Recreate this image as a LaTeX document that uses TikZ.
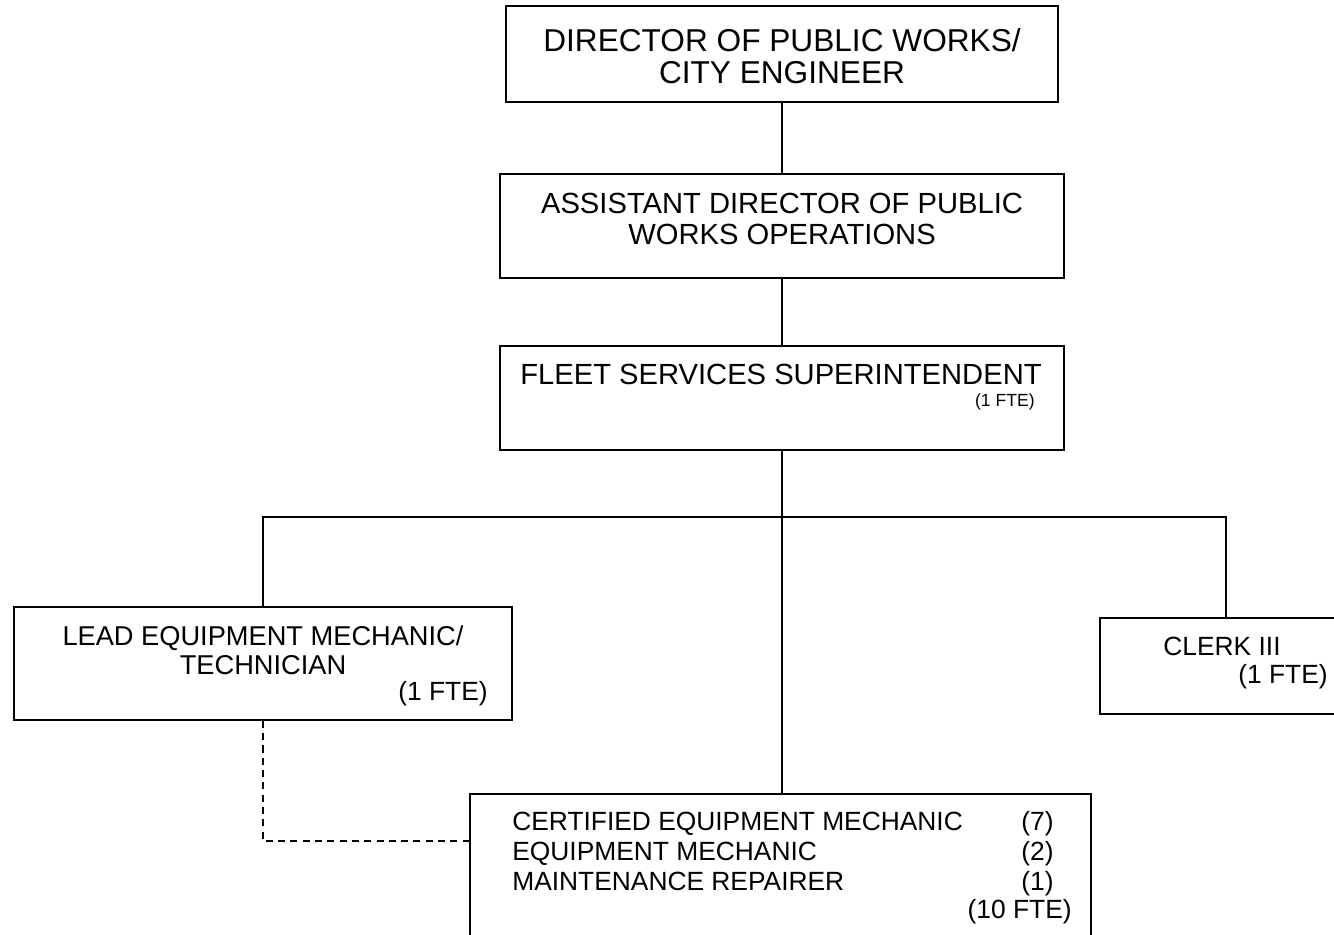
\documentclass[tikz,border=0pt]{standalone}
\usepackage{fontspec}
\setmainfont{Liberation Sans}
\usetikzlibrary{positioning}

\tikzset{
	orgbox/.style={draw, line width=1pt, inner sep=0pt},
	bigtxt/.style={font=\fontsize{16.6}{18}\selectfont, align=center, inner sep=0pt},
	smalltxt/.style={font=\fontsize{15}{16.5}\selectfont, inner sep=0pt},
	link/.style={line width=1pt},
	dashlink/.style={line width=1pt, dash pattern=on 4pt off 3pt},
}

\begin{document}
\begin{tikzpicture}[x=0.02cm, y=-0.02cm]
		\clip (0,0) rectangle (1334,934);
		\coordinate (spine) at (782,0);
		\coordinate (bus) at (782,517);
		\coordinate (dashy) at (0,841);

		% boxes
		\node[orgbox, minimum width=11.04cm, minimum height=1.92cm] (dir) at (782,54) {};
		\node[orgbox, minimum width=11.28cm, minimum height=2.08cm] (asst) at (782,226) {};
		\node[orgbox, minimum width=11.28cm, minimum height=2.08cm] (fleet) at (782,398) {};
		\node[orgbox, minimum width=9.96cm, minimum height=2.26cm] (lead) at (263,663.5) {};
		\node[orgbox, minimum width=5.04cm, minimum height=1.92cm] (clerk) at (1226,666) {};
		\node[orgbox, minimum width=12.42cm, minimum height=4.2cm] (crew) at (780.5,899) {};

		% texts
		\node[bigtxt, font=\fontsize{18}{18}\selectfont] (dirtxt) at (782,56) {DIRECTOR OF PUBLIC WORKS/\\CITY ENGINEER};
		\node[bigtxt] (assttxt) at (782,219) {ASSISTANT DIRECTOR OF PUBLIC\\WORKS OPERATIONS};
		\node[bigtxt] (fleettxt) at (781,374) {FLEET SERVICES SUPERINTENDENT};
		\node[font=\fontsize{10}{12}\selectfont, inner sep=0pt, anchor=base east] (fleetfte) at (1035,406) {(1 FTE)};

		\node[smalltxt, font=\fontsize{15.5}{16.5}\selectfont, align=center] (leadtxt) at (263,650) {LEAD EQUIPMENT MECHANIC/\\TECHNICIAN};
		\node[smalltxt, anchor=base east] (leadfte) at (488,700) {(1 FTE)};

		\node[smalltxt] (clerktxt) at (1222,646) {CLERK III};
		\node[smalltxt, anchor=base east] (clerkfte) at (1328,683) {(1 FTE)};

		\node[smalltxt, anchor=base west] (crew1) at (512,830) {CERTIFIED EQUIPMENT MECHANIC};
		\node[smalltxt, anchor=base west] (crew2) at (512,860) {EQUIPMENT MECHANIC};
		\node[smalltxt, anchor=base west] (crew3) at (512,890) {MAINTENANCE REPAIRER};
		\node[smalltxt, anchor=base east] (num1) at (1054,830) {(7)};
		\node[smalltxt, anchor=base east] (num2) at (1054,860) {(2)};
		\node[smalltxt, anchor=base east] (num3) at (1054,890) {(1)};
		\node[smalltxt, anchor=base east] (crewfte) at (1072,918) {(10 FTE)};

		% lines
		\draw[link] (dir.south -| spine) -- (asst.north -| spine);
		\draw[link] (asst.south -| spine) -- (fleet.north -| spine);
		\draw[link] (fleet.south -| spine) -- (crew.north -| spine);
		\draw[link] (lead.north) |- (bus) -| (clerk.north);
		\draw[dashlink] (lead.south) |- (crew.west |- dashy);
		%\draw[link] (bus) -- (fleet.south -| spine);

	\end{tikzpicture}
\end{document}
